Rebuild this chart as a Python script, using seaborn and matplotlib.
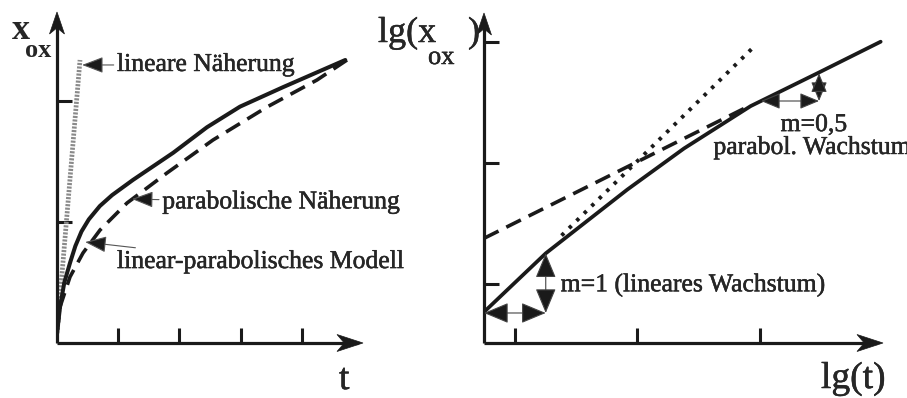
import matplotlib
matplotlib.use("Agg")
import matplotlib.pyplot as plt
import matplotlib.patheffects as pe
from matplotlib.patches import Polygon
import seaborn as sns
import pandas as pd

# --- linear axes: oxide thickness vs. time ---
t_model = [0.0, 0.05, 0.12, 0.212, 0.30, 0.40, 0.52, 0.70, 0.90, 1.24, 1.90, 2.45, 2.99, 3.69, 4.71]
x_model = [0.08, 0.30, 0.50, 0.66, 0.80, 0.92, 1.02, 1.13, 1.22, 1.345, 1.57, 1.78, 1.95, 2.11, 2.335]
t_parab = [0.0, 0.049, 0.212, 0.425, 0.703, 1.144, 1.797, 2.549, 3.431, 4.248, 4.739]
x_parab = [0.08, 0.297, 0.545, 0.743, 0.932, 1.155, 1.403, 1.675, 1.947, 2.170, 2.335]
t_lin = [0.0, 0.376]
x_lin = [0.08, 2.335]
t_ticks = [1, 2, 3, 4]
x_ticks = [1, 2]

# --- log axes: lg(x_ox) vs. lg(t) ---
lgt_model = [0.747, 1.251, 1.563, 1.917, 2.38, 2.924, 3.468, 3.985]
lgx_model = [0.768, 1.253, 1.50, 1.78, 2.12, 2.47, 2.741, 3.002]
lgt_lin = [1.38, 2.965]
lgx_lin = [1.40, 2.975]
lgt_parab = [0.747, 2.90]
lgx_parab = [1.377, 2.465]
lgt_ticks = [1, 2, 3]
lgx_ticks = [1, 2, 3]

sns.set_theme(style="white")
plt.rcParams["font.family"] = ["Liberation Serif", "DejaVu Serif"]

W, H = 907, 398
fig = plt.figure(figsize=(W / 100, H / 100), dpi=100)
ink = [pe.withStroke(linewidth=0.35, foreground="k")]


def px_axes(x0, y0, x1, y1):
    return fig.add_axes([x0 / W, 1 - y1 / H, (x1 - x0) / W, (y1 - y0) / H])


def stealth(tip, direction, length, width):
    """Notched arrow head given in figure pixels (y pointing down)."""
    tx, ty = tip
    dx, dy = direction
    nx, ny = -dy, dx
    pts = [(tx, ty),
           (tx - dx * length + nx * width / 2, ty - dy * length + ny * width / 2),
           (tx - dx * length * 0.72, ty - dy * length * 0.72),
           (tx - dx * length - nx * width / 2, ty - dy * length - ny * width / 2)]
    fig.add_artist(Polygon([(x / W, 1 - y / H) for x, y in pts], closed=True,
                           transform=fig.transFigure, fc="k", ec="k", lw=0.5))


def frame(ax, xt, yt, xtip, ytip):
    for s in ax.spines.values():
        s.set_visible(False)
    ax.set_xticks(xt)
    ax.set_yticks(yt)
    ax.tick_params(direction="in", length=10.5, width=2.2, color="k",
                   labelbottom=False, labelleft=False, bottom=True, left=True)
    ax.set_xlabel("")
    ax.set_ylabel("")
    ax.patch.set_alpha(0)
    for a, b in [((0, 0), (0.985, 0)), ((0, 0), (0, 0.98))]:
        ax.plot([a[0], b[0]], [a[1], b[1]], transform=ax.transAxes, color="k",
                lw=2.3, clip_on=False, solid_capstyle="butt")
    stealth(xtip, (1, 0), 26, 17)
    stealth(ytip, (0, -1), 22, 15)


def pointer(ax, text, xy, xytext, size=18.5):
    ax.annotate(text, xy=xy, xytext=xytext, fontsize=size, va="center", ha="left",
                path_effects=ink,
                arrowprops=dict(arrowstyle="-|>,head_length=1.1,head_width=0.42",
                                mutation_scale=12, lw=0.8, fc="k", ec="#555",
                                shrinkA=0, shrinkB=0),
                annotation_clip=False)


def double(ax, p, q, scale):
    ax.annotate("", xy=q, xytext=p,
                arrowprops=dict(arrowstyle="<|-|>,head_length=1.2,head_width=0.5",
                                mutation_scale=scale, lw=0.8, fc="k", ec="#444",
                                shrinkA=0, shrinkB=0),
                annotation_clip=False)


# ---------------- left panel ----------------
axL = px_axes(57, 12, 363, 343)
axL.set_xlim(0, 306 / 61.2)
axL.set_ylim(0, 331 / 121.2)

df_lin = pd.DataFrame({"t": t_lin, "x": x_lin})
df_par = pd.DataFrame({"t": t_parab, "x": x_parab})
df_mod = pd.DataFrame({"t": t_model, "x": x_model})
sns.lineplot(data=df_lin, x="t", y="x", ax=axL, color="#8a8a8a", lw=3.4,
             linestyle=(0, (0.45, 0.3)), sort=False)
sns.lineplot(data=df_par, x="t", y="x", ax=axL, color="k", lw=2.6,
             sort=False).lines[-1].set_dashes((4.5, 2.4))
sns.lineplot(data=df_mod, x="t", y="x", ax=axL, color="k", lw=2.9, sort=False)
frame(axL, t_ticks, x_ticks, (363, 343), (57, 12))

pointer(axL, "lineare Näherung", (0.41, 2.294), (0.98, 2.294))
pointer(axL, "parabolische Näherung", (1.225, 1.188), (1.72, 1.16))
pointer(axL, "linear-parabolisches Modell", (0.46, 0.833), (0.98, 0.668))

fig.text(12 / W, 1 - 39 / H, "x", fontsize=26, fontweight="bold", ha="left", va="baseline")
fig.text(25 / W, 1 - 57 / H, "ox", fontsize=19, fontweight="bold", ha="left", va="baseline")
fig.text(339 / W, 1 - 389 / H, "t", fontsize=27, ha="left", va="baseline", path_effects=ink)

# ---------------- right panel ----------------
axR = px_axes(484, 13, 883, 343)
axR.set_xlim(0.747, 0.747 + 399 / 122.5)
axR.set_ylim(0.512, 0.512 + 330 / 121)

df_rl = pd.DataFrame({"t": lgt_lin, "x": lgx_lin})
df_rp = pd.DataFrame({"t": lgt_parab, "x": lgx_parab})
df_rm = pd.DataFrame({"t": lgt_model, "x": lgx_model})
sns.lineplot(data=df_rl, x="t", y="x", ax=axR, color="k", lw=2.8,
             linestyle=(0, (0.9, 1.8)), sort=False)
sns.lineplot(data=df_rp, x="t", y="x", ax=axR, color="k", lw=2.6,
             sort=False).lines[-1].set_dashes((4.5, 2.4))
sns.lineplot(data=df_rm, x="t", y="x", ax=axR, color="k", lw=2.7, sort=False)
frame(axR, lgt_ticks, lgx_ticks, (883, 343), (484, 13))

# slope triangles
double(axR, (lgt_model[0], 0.76), (lgt_model[1], 0.76), 13)
double(axR, (lgt_model[1], 0.76), (lgt_model[1], lgx_model[1]), 13)
double(axR, (3.008, 2.512), (3.482, 2.512), 10)
double(axR, (3.482, 2.512), (3.482, 2.741), 10)

axR.text(1.373, 0.99, "m=1 (lineares Wachstum)", fontsize=18.5, ha="left", va="center",
         path_effects=ink)
axR.text(3.44, 2.313, "m=0,5", fontsize=18.5, ha="center", va="center", path_effects=ink)
axR.text(2.62, 2.124, "parabol. Wachstum", fontsize=18.5, ha="left", va="center",
         clip_on=False, path_effects=ink)

fig.text(378 / W, 1 - 42 / H, "lg(x", fontsize=26, ha="left", va="baseline", path_effects=ink)
fig.text(428 / W, 1 - 64 / H, "ox", fontsize=19, ha="left", va="baseline", path_effects=ink)
fig.text(468 / W, 1 - 42 / H, ")", fontsize=26, ha="left", va="baseline", path_effects=ink)
fig.text(821 / W, 1 - 388 / H, "lg(t)", fontsize=27, ha="left", va="baseline", path_effects=ink)

fig.savefig("out.png", dpi=100)
